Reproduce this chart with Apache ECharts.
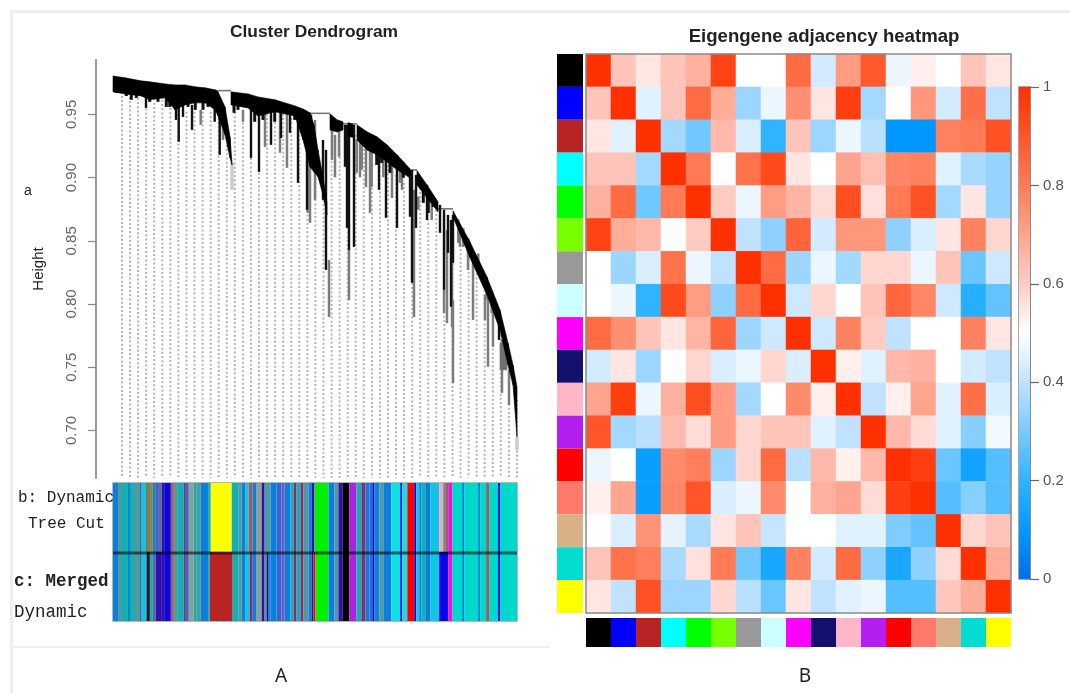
<!DOCTYPE html>
<html><head><meta charset="utf-8"><style>html,body{margin:0;padding:0;background:#fff}#c{width:1070px;height:693px;filter:blur(0.5px)}</style>
<script src="https://cdn.jsdelivr.net/npm/echarts@6/dist/echarts.min.js"></script></head>
<body><div id="c"></div>
<script>
// ---------- Eigengene adjacency ----------
var modules=['black','blue','firebrick','cyan','green','greenyellow','grey60','lightcyan','magenta','midnightblue','pink','purple','red','salmon','tan','turquoise','yellow'];
var adjBlack=[1,.62,.55,.62,.67,.95,.5,.5,.84,.43,.72,.89,.47,.53,.5,.62,.55];
var adjBlue=[.62,1,.45,.62,.84,.68,.35,.47,.75,.55,.96,.36,.5,.73,.43,.83,.4];
var adjFirebrick=[.55,.45,1,.36,.29,.65,.44,.2,.62,.35,.47,.39,.1,.1,.78,.8,.91];
var adjCyan=[.62,.62,.36,1,.8,.5,.82,.93,.55,.5,.7,.63,.77,.78,.45,.37,.34];
var adjGreen=[.67,.84,.29,.8,1,.6,.47,.72,.66,.57,.92,.56,.8,.91,.36,.55,.34];
var adjGreenyellow=[.95,.68,.65,.5,.6,1,.4,.33,.86,.43,.73,.73,.33,.44,.55,.78,.58];
var adjGrey60=[.5,.35,.44,.82,.47,.4,1,.84,.35,.47,.36,.58,.58,.47,.62,.28,.42];
var adjLightcyan=[.5,.47,.2,.93,.72,.33,.84,1,.42,.58,.5,.62,.85,.77,.42,.18,.27];
var adjMagenta=[.84,.75,.62,.55,.66,.86,.35,.42,1,.42,.78,.6,.4,.5,.5,.78,.55];
var adjMidnightblue=[.43,.55,.35,.5,.58,.44,.47,.58,.44,1,.53,.45,.65,.67,.5,.43,.4];
var adjPink=[.7,.96,.47,.67,.92,.72,.36,.5,.76,.53,1,.4,.53,.7,.45,.83,.44];
var adjPurple=[.9,.36,.39,.64,.57,.72,.58,.62,.62,.45,.4,1,.65,.57,.45,.32,.48];
var adjRed=[.47,.5,.12,.76,.79,.35,.58,.84,.39,.65,.53,.65,1,.96,.28,.14,.25];
var adjSalmon=[.53,.7,.12,.77,.9,.44,.47,.76,.5,.67,.7,.57,.96,1,.25,.32,.25];
var adjTan=[.5,.44,.74,.46,.37,.55,.62,.41,.5,.5,.45,.45,.31,.27,1,.58,.62];
var adjTurquoise=[.62,.82,.79,.37,.56,.8,.29,.15,.78,.43,.84,.33,.15,.33,.57,1,.68];
var adjYellow=[.55,.4,.91,.35,.35,.58,.39,.28,.55,.4,.45,.47,.25,.25,.61,.68,1];
var adjacencyRows=[adjBlack,adjBlue,adjFirebrick,adjCyan,adjGreen,adjGreenyellow,adjGrey60,adjLightcyan,adjMagenta,adjMidnightblue,adjPink,adjPurple,adjRed,adjSalmon,adjTan,adjTurquoise,adjYellow];
var colorbarRange=[[0,1]];
var colorbarTicks=[0,.2,.4,.6,.8,1];

// ---------- Dendrogram: [leaf position, upper height, lower height] ----------
var clusterA=[[1,.9804,.9678],[13,.9789,.9662],[29,.9765,.9646],[38,.9757,.9615],[53,.9741,.9631],[63,.9733,.9536],[73,.9733,.9575],[83,.9718,.9591],[93,.971,.9591],[103,.9694,.9536],[106,.9678,.9488],[113,.9559,.9338],[118,.9322,.9156],[120,.9116,.9101]];
var clusterB=[[119,.9678,.9575],[136,.9662,.9551],[146,.9638,.9488],[163,.9615,.952],[183,.9567,.9488],[191,.9543,.9298],[198,.9512,.9085],[202,.9417,.9045],[206,.9219,.9006],[211,.9006,.8863],[215,.88,.8705]];
var clusterC=[[218,.9504,.9377],[225,.9457,.9361],[231,.9441,.9377]];
var clusterD=[[236,.9435,.9322],[241,.942,.932]];
var clusterE=[[245,.9417,.9298],[255,.9362,.9219],[265,.9322,.918],[275,.9259,.9124],[285,.918,.9061],[298,.9069,.8998]];
var clusterF=[[305,.9055,.8942],[315,.8942,.8839],[326,.8808,.8729]];
var clusterG=[[341,.8737,.8689],[358,.8491,.8365],[375,.8214,.8072],[388,.7953,.7795],[396,.7692,.7518],[401,.7518,.736],[405,.7344,.6949]];
var clusterGrey=[[388,.7692,.7479],[395,.7692,.7479]];
var branchesBlack=[[34,.9654,.9551],[66.7,.9694,.9283],[64,.9694,.9456],[71,.9694,.948],[80,.9575,.9377],[102.7,.9615,.9441],[107.7,.9575,.918],[139,.9615,.9156],[147,.9615,.9045],[159,.9536,.9259],[169,.9536,.9314],[178,.9536,.9354],[186,.9536,.8958],[195,.9496,.8745],[199,.9496,.9085],[211,.9298,.8824],[214,.9219,.827],[233,.9417,.9085],[235,.9417,.8602],[237,.9417,.8428],[242,.9417,.8452],[267,.9298,.8903],[274,.9219,.8682],[285,.918,.8602],[298,.9061,.869],[300,.9061,.8168],[304,.9021,.8602],[315,.8942,.8665],[328,.8784,.8563],[332,.8745,.8112],[336,.8705,.8405],[339,.8665,.7979],[341,.8705,.8326],[387,.7875,.7716]];
var branchesBlackShort=[[4.3,.97,.967],[14.3,.97,.9645],[19.3,.97,.9615],[24.3,.97,.963],[37.7,.97,.9599],[42.7,.97,.963],[46,.97,.9599],[51,.97,.963],[54.3,.97,.9559],[57.7,.97,.9559],[61,.97,.9575],[76,.97,.9559],[83.3,.97,.9536],[91,.97,.9536],[96,.97,.9559],[122,.96,.9512],[126,.96,.9536],[142.7,.96,.9441],[151,.955,.9456],[162.7,.955,.9441],[182.7,.95,.9456],[189.3,.95,.9433],[264.7,.93,.91],[269.7,.925,.9116],[278,.92,.9037],[291.3,.912,.8998],[311.3,.895,.88],[316.3,.89,.872],[321.3,.885,.8768]];
var branchesGrey=[[88.7,.9536,.9417],[111,.9536,.9298],[131,.9536,.9441],[153,.9536,.9243],[168,.9536,.9196],[175,.9536,.9077],[195.7,.9219,.8721],[198,.9496,.8642],[203,.9456,.8824],[217,.8349,.7897],[220,.9377,.914],[223,.9338,.9002],[227,.9377,.9164],[237,.8428,.8032],[248,.9377,.9002],[254,.9298,.8926],[258,.9298,.8721],[280,.914,.8839],[290,.91,.8903],[302,.8903,.7897],[332,.8112,.7929],[335,.8586,.785],[340,.8586,.7819],[341,.8032,.7376],[348,.8626,.8452],[356,.8507,.827],[361,.8349,.7874],[373,.8072,.7874],[376,.8112,.7503],[381,.8032,.7661],[390,.7716,.7297],[397,.7479,.7201],[244.7,.93,.9037],[249.7,.93,.9061],[259.7,.925,.8927],[271.3,.92,.9002],[288,.905,.8958],[306.3,.885,.8745],[319.7,.885,.8665],[346.3,.867,.8483],[351.3,.86,.8452],[356.3,.852,.8373],[366.3,.84,.8246],[374.7,.82,.8032],[379.7,.81,.7929],[384.7,.8,.7897]];
var branchesPale=[[120,.9124,.8903],[405,.6949,.6846]];
var joins=[[103,119,.9688],[198,218,.9508],[231,245,.9425],[298,305,.906],[326,341,.8753]];
var leafGuides=[[10,.9646],[18.1,.9638],[26.1,.9631],[34.2,.9615],[42.2,.9591],[50.3,.9615],[58.4,.9583],[66.4,.9536],[74.5,.952],[82.5,.952],[90.6,.952],[98.7,.952],[106.7,.9472],[114.8,.9259],[122.8,.9551],[130.9,.9536],[139,.952],[147,.9504],[155.1,.9504],[163.1,.9504],[171.2,.9504],[179.3,.9504],[187.3,.9504],[195.4,.9472],[203.4,.9061],[211.5,.8824],[219.6,.9362],[227.6,.9362],[235.7,.9338],[243.7,.9338],[251.8,.9259],[259.9,.9219],[267.9,.9156],[276,.91],[284,.9021],[292.1,.8958],[300.2,.8998],[308.2,.8919],[316.3,.884],[324.3,.8745],[332.4,.8705],[340.5,.8681],[348.5,.8468],[356.6,.8389],[364.6,.831],[372.7,.8112],[380.8,.7914],[388.8,.7756],[396.9,.7479],[405,.7241]];
var heightFloor=.6624, heightCeil=.993;
var heightTicks=[.7,.75,.8,.85,.9,.95];

// ---------- Module strips: [end of stripe along the leaf order, tone] ----------
var dynamicTreeCut=[[1,'a'],[5,'a'],[9,'g'],[15,'t'],[17,'a'],[21,'t'],[27,'g'],[28,'p'],[33,'c'],[34,'a'],[38,'o'],[40,'t'],[43,'q'],[46,'m'],[49,'q'],[52,'i'],[58,'b'],[61,'r'],[65,'g'],[71,'t'],[73,'u'],[76,'m'],[81,'s'],[84,'t'],[88,'g'],[96,'a'],[98,'t'],[119,'y'],[126,'t'],[129,'g'],[133,'a'],[136,'c'],[140,'r'],[144,'a'],[149,'s'],[152,'i'],[158,'g'],[164,'a'],[169,'m'],[172,'n'],[178,'a'],[181,'t'],[184,'u'],[188,'t'],[191,'u'],[196,'g'],[199,'a'],[202,'i'],[216,'G'],[222,'a'],[226,'g'],[230,'i'],[237,'K'],[244,'v'],[249,'t'],[253,'u'],[257,'a'],[260,'m'],[262,'b'],[267,'a'],[271,'g'],[279,'a'],[288,'C'],[290,'b'],[295,'C'],[302,'e'],[304,'b'],[307,'c'],[309,'a'],[313,'t'],[318,'a'],[327,'c'],[331,'P'],[333,'g'],[336,'r'],[340,'M'],[350,'T'],[352,'a'],[366,'T'],[368,'a'],[374,'T'],[377,'r'],[386,'T'],[388,'b'],[405,'T']];
var mergedDynamic=[[5,'a'],[9,'g'],[15,'t'],[17,'a'],[21,'t'],[27,'g'],[28,'p'],[33,'c'],[34,'a'],[37,'d'],[40,'t'],[43,'q'],[49,'i'],[52,'i'],[58,'b'],[61,'r'],[65,'g'],[71,'t'],[73,'u'],[76,'m'],[81,'s'],[84,'t'],[88,'g'],[96,'a'],[97,'t'],[120,'R'],[126,'t'],[129,'g'],[133,'a'],[137,'c'],[140,'u'],[144,'a'],[149,'s'],[152,'i'],[154,'g'],[156,'f'],[158,'a'],[164,'a'],[169,'m'],[172,'n'],[178,'a'],[181,'t'],[184,'u'],[188,'t'],[191,'u'],[196,'g'],[199,'a'],[201,'i'],[203,'e'],[216,'G'],[222,'a'],[226,'g'],[230,'i'],[237,'K'],[244,'v'],[249,'t'],[253,'u'],[257,'a'],[260,'m'],[262,'b'],[267,'a'],[271,'g'],[279,'a'],[288,'C'],[290,'b'],[295,'C'],[302,'e'],[304,'b'],[307,'c'],[309,'a'],[313,'t'],[318,'a'],[327,'c'],[336,'b'],[340,'M'],[350,'T'],[352,'a'],[366,'T'],[368,'a'],[374,'T'],[377,'r'],[386,'T'],[388,'b'],[405,'T']];

// ---------- Styles ----------
var toneColors={a:'#0a80dc',g:'#4e9a9e',t:'#10b0b4',c:'#10c4e4',p:'#6a3a90',o:'#b07020',q:'#5a6aa0',m:'#2e68d0',i:'#3010b0',b:'#0606e6',r:'#a85a5a',u:'#8a2a70',s:'#8fa090',n:'#8050c0',y:'#ffff00',R:'#b82323',G:'#00f000',K:'#000000',v:'#b020e0',C:'#10e0e0',e:'#ff0000',P:'#f4a8c0',M:'#f010e0',T:'#00d8cc',d:'#4a1010',f:'#101070'};
var moduleColors={black:'#000000',blue:'#0000ff',firebrick:'#b82323',cyan:'#00ffff',green:'#00ff00',greenyellow:'#78ff00',grey60:'#999999',lightcyan:'#ccffff',magenta:'#ff00ff',midnightblue:'#12126e',pink:'#ffb6c8',purple:'#b41eee',red:'#ff0000',salmon:'#ff7a6a',tan:'#d9b088',turquoise:'#00dccf',yellow:'#ffff00'};
var scaleColors=['#0070e8','#0098ff','#30b4ff','#78caff','#c0e2ff','#ffffff','#ffccc4','#ffa48e','#ff7a55','#ff5528','#ff3000'];

// ---------- Renderers ----------
function polygonRenderer(points,fill){
  return function(params,api){
    var i=params.dataIndex; if(i>=points.length-1) return null;
    var a=points[i],b=points[i+1];
    return {type:'polygon',shape:{points:[api.coord([a[0],a[1]]),api.coord([b[0],b[1]]),api.coord([b[0],b[2]]),api.coord([a[0],a[2]])]},style:{fill:fill,stroke:fill,lineWidth:.6}};
  };
}
function clusterSeries(points,fill){
  return {type:'custom',xAxisIndex:0,yAxisIndex:0,data:points,silent:true,z:4,renderItem:polygonRenderer(points,fill)};
}
function branchSeries(rows,color,width,z){
  return {type:'custom',xAxisIndex:0,yAxisIndex:0,data:rows,silent:true,z:z,renderItem:function(p,api){
    var s=api.coord([api.value(0),api.value(1)]),e=api.coord([api.value(0),api.value(2)]);
    return {type:'line',shape:{x1:s[0],y1:s[1],x2:e[0],y2:e[1]},style:{stroke:color,lineWidth:width}};
  }};
}
function stripeSeries(rows,rowIndex){
  var starts=rows.map(function(r,i){return i?rows[i-1][0]:0;});
  return {type:'custom',xAxisIndex:1,yAxisIndex:1,data:rows.map(function(r,i){return [starts[i],r[0],rowIndex];}),silent:true,renderItem:function(p,api){
    var s=api.coord([api.value(0),api.value(2)+1]),e=api.coord([api.value(1),api.value(2)]);
    return {type:'rect',shape:{x:s[0],y:s[1],width:e[0]-s[0],height:e[1]-s[1]},style:{fill:toneColors[rows[p.dataIndex][1]]}};
  }};
}
function moduleStrip(axisIdx,vertical){
  return {type:'custom',xAxisIndex:axisIdx,yAxisIndex:axisIdx,silent:true,
    data:modules.map(function(m,i){return vertical?[0,i]:[i,0];}),
    renderItem:function(p,api){
      var c=api.coord([api.value(0),api.value(1)]),s=api.size([1,1]);
      return {type:'rect',shape:{x:c[0]-s[0]/2,y:c[1]-s[1]/2,width:s[0],height:s[1]},style:{fill:moduleColors[modules[p.dataIndex]]}};
    }};
}
var heatData=[];
adjacencyRows.forEach(function(row,r){row.forEach(function(v,c){heatData.push([c,r,v]);});});
var gray='#8a8a8a';

var option={
  animation:false,backgroundColor:'#ffffff',
  textStyle:{fontFamily:'"Liberation Sans",Arial,sans-serif'},
  title:[
    {text:'Cluster Dendrogram',left:309,top:19,textAlign:'center',textStyle:{fontSize:17.4,fontWeight:'bold',color:'#222'}},
    {text:'Eigengene adjacency heatmap',left:819,top:22,textAlign:'center',textStyle:{fontSize:18.6,fontWeight:'bold',color:'#222'}}
  ],
  grid:[
    {left:96,top:60,width:421,height:418},
    {left:113,top:483,width:404,height:138,show:true,borderColor:'#a0a0a0',borderWidth:1.5,backgroundColor:'transparent'},
    {left:586,top:54,width:425,height:559,show:true,borderColor:gray,borderWidth:1.5,z:5},
    {left:557,top:54,width:26,height:559},
    {left:586,top:618,width:425,height:29},
    {left:1019,top:87,width:11,height:492,show:true,borderColor:gray,borderWidth:1.5}
  ],
  xAxis:[
    {gridIndex:0,type:'value',min:-16,max:405,show:false},
    {gridIndex:1,type:'value',min:0,max:405,show:false},
    {gridIndex:2,type:'category',data:modules,show:false},
    {gridIndex:3,type:'category',data:['module'],show:false},
    {gridIndex:4,type:'category',data:modules,show:false},
    {gridIndex:5,type:'value',min:0,max:1,show:false}
  ],
  yAxis:[
    {gridIndex:0,type:'value',min:heightFloor,max:heightCeil,position:'left',
      name:'Height',nameLocation:'middle',nameRotate:90,nameGap:50,nameMoveOverlap:false,nameTextStyle:{fontSize:15,color:'#222'},
      axisLine:{show:true,onZero:false,lineStyle:{color:'#999',width:2}},
      axisTick:{show:true,length:8,lineStyle:{color:'#888',width:1.2},customValues:heightTicks},
      axisLabel:{show:true,rotate:90,margin:17,fontSize:15,color:'#666',customValues:heightTicks,formatter:function(v){return v.toFixed(2);}},
      splitLine:{show:false}},
    {gridIndex:1,type:'value',min:0,max:2,show:false},
    {gridIndex:2,type:'category',data:modules,inverse:true,show:false},
    {gridIndex:3,type:'category',data:modules,inverse:true,show:false},
    {gridIndex:4,type:'category',data:['module'],show:false},
    {gridIndex:5,type:'value',min:0,max:1,position:'right',interval:.2,z:20,
      axisLine:{show:true,onZero:false,lineStyle:{color:gray}},axisTick:{show:true,length:9,lineStyle:{color:'#666',width:1.2},customValues:colorbarTicks},
      axisLabel:{show:true,margin:13,fontSize:15,color:'#555',customValues:colorbarTicks},splitLine:{show:false}}
  ],
  visualMap:{show:false,seriesIndex:0,min:0,max:1,inRange:{color:scaleColors}},
  series:[
    {type:'heatmap',xAxisIndex:2,yAxisIndex:2,data:heatData,silent:true,progressive:0},
    {type:'custom',xAxisIndex:0,yAxisIndex:0,data:leafGuides,silent:true,z:1,renderItem:function(p,api){
      var s=api.coord([api.value(0),api.value(1)]),e=api.coord([api.value(0),heightFloor]);
      return {type:'line',shape:{x1:s[0],y1:s[1],x2:e[0],y2:e[1]},style:{stroke:'#b4b4b4',lineWidth:2,lineDash:[2,2.2]}};
    }},
    branchSeries(branchesPale,'#cccccc',3.5,2),
    branchSeries(branchesGrey,'#7c7c7c',2.5,3),
    clusterSeries(clusterGrey,'#707070'),
    branchSeries(branchesBlack,'#111111',2.4,4),
    branchSeries(branchesBlackShort,'#111111',3,4),
    clusterSeries(clusterA,'#000'),clusterSeries(clusterB,'#000'),clusterSeries(clusterC,'#000'),clusterSeries(clusterD,'#000'),clusterSeries(clusterE,'#000'),clusterSeries(clusterF,'#000'),clusterSeries(clusterG,'#000'),
    {type:'custom',xAxisIndex:0,yAxisIndex:0,data:joins,silent:true,z:3,renderItem:function(p,api){
      var s=api.coord([api.value(0),api.value(2)]),e=api.coord([api.value(1),api.value(2)]);
      return {type:'line',shape:{x1:s[0],y1:s[1],x2:e[0],y2:e[1]},style:{stroke:'#777',lineWidth:1.6}};
    }},
    stripeSeries(dynamicTreeCut,1),
    stripeSeries(mergedDynamic,0),
    moduleStrip(3,true),
    moduleStrip(4,false),
    {type:'custom',xAxisIndex:5,yAxisIndex:5,data:colorbarRange,silent:true,renderItem:function(p,api){
      var s=api.coord([0,api.value(1)]),e=api.coord([1,api.value(0)]);
      var stops=scaleColors.map(function(c,i){return {offset:1-i/(scaleColors.length-1),color:c};}).reverse();
      return {type:'rect',shape:{x:s[0],y:s[1],width:e[0]-s[0],height:e[1]-s[1]},style:{fill:new echarts.graphic.LinearGradient(0,0,0,1,stops)}};
    }}
  ],
  graphic:[
    {type:'rect',silent:true,z:-1,shape:{x:10,y:10,width:1060,height:3},style:{fill:'#eeeeee'}},
    {type:'rect',silent:true,z:-1,shape:{x:10,y:10,width:3,height:683},style:{fill:'#eeeeee'}},
    {type:'rect',silent:true,z:-1,shape:{x:10,y:646,width:540,height:2},style:{fill:'#eeeeee'}},
    {type:'rect',silent:true,z:50,shape:{x:113,y:551.5,width:404,height:3},style:{fill:'rgba(0,0,0,.55)'}},
    {type:'text',silent:true,style:{x:24,y:184,text:'a',fontSize:14,fill:'#222',fontFamily:'"Liberation Sans",sans-serif'}},
    {type:'text',silent:true,style:{x:18,y:490,text:'b: Dynamic',fontSize:16,fill:'#222',fontFamily:'"Liberation Mono",monospace'}},
    {type:'text',silent:true,style:{x:28,y:516,text:'Tree Cut',fontSize:16,fill:'#222',fontFamily:'"Liberation Mono",monospace'}},
    {type:'text',silent:true,style:{x:14,y:573,text:'c: Merged',fontSize:17.5,fontWeight:'bold',fill:'#222',fontFamily:'"Liberation Mono",monospace'}},
    {type:'text',silent:true,style:{x:14,y:603,text:'Dynamic',fontSize:17.5,fill:'#222',fontFamily:'"Liberation Mono",monospace'}},
    {type:'text',silent:true,style:{x:281,y:677,text:'A',align:'center',verticalAlign:'middle',fontSize:19,fill:'#222',fontFamily:'"Noto Sans",sans-serif'}},
    {type:'text',silent:true,style:{x:805,y:677,text:'B',align:'center',verticalAlign:'middle',fontSize:19,fill:'#222',fontFamily:'"Noto Sans",sans-serif'}}
  ]
};
echarts.init(document.getElementById('c'),null,{renderer:'canvas'}).setOption(option);
</script></body></html>
